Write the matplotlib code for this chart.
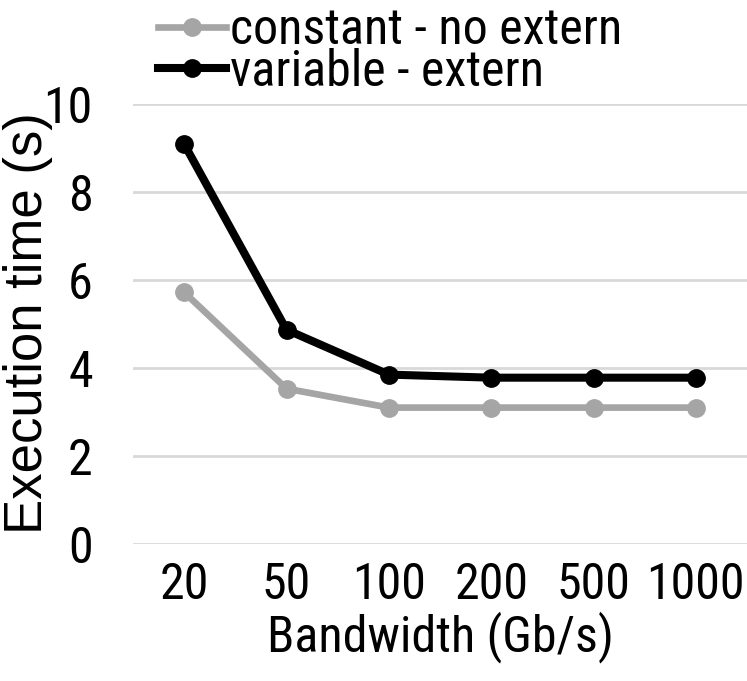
import matplotlib
matplotlib.use('Agg')
import matplotlib.pyplot as plt
from matplotlib import font_manager as fm

bandwidth = ['20', '50', '100', '200', '500', '1000']
constant_no_extern = [5.72, 3.53, 3.10, 3.10, 3.10, 3.10]
variable_extern = [9.09, 4.87, 3.85, 3.78, 3.78, 3.78]

# the picture is squeezed sideways, so flat text looks condensed
have = set(f.name for f in fm.fontManager.ttflist)
narrow = [n for n in ['Roboto Condensed', 'Liberation Sans Narrow', 'Arial Narrow',
                      'PT Sans Narrow', 'Archivo Narrow'] if n in have]
plt.rcParams['font.family'] = narrow[:1] + ['Liberation Sans', 'DejaVu Sans']
plt.rcParams['font.size'] = 36

fig = plt.figure(figsize=(7.47, 6.81), dpi=100)
ax = fig.add_axes([133/747, 137/681, 614/747, 440/681])

x = list(range(len(bandwidth)))
ax.plot(x, constant_no_extern, color='#a5a5a5', lw=4.8, marker='o', ms=12.5,
        label='constant - no extern', clip_on=False, zorder=3)
ax.plot(x, variable_extern, color='black', lw=5.8, marker='o', ms=12.5,
        label='variable - extern', clip_on=False, zorder=4)

ax.set_xlim(-0.5, 5.5)
ax.set_ylim(0, 10)
ax.set_yticks([0, 2, 4, 6, 8, 10])
ax.set_xticks(x)
ax.set_xticklabels(bandwidth)
ax.grid(axis='y', color='#d9d9d9', lw=2)
ax.set_axisbelow(True)
for s in ax.spines.values():
    s.set_visible(False)
ax.tick_params(axis='x', length=0, pad=12)
ax.tick_params(axis='y', length=0, pad=29)
ax.set_xlabel('Bandwidth (Gb/s)', labelpad=2)

# rotated label keeps the normal width in the squeezed picture
fig.text(28/747, 1 - 323/681, 'Execution time (s)', rotation=90,
         ha='center', va='center', family=['Liberation Sans', 'DejaVu Sans'],
         fontsize=38)

fig.legend(loc='upper left', bbox_to_anchor=(158/747, 1 - 6/681), frameon=False,
           handlelength=1.36, handletextpad=0.08, labelspacing=-0.13,
           borderaxespad=0.0, borderpad=0.0)

fig.savefig('out.png', dpi=100)
